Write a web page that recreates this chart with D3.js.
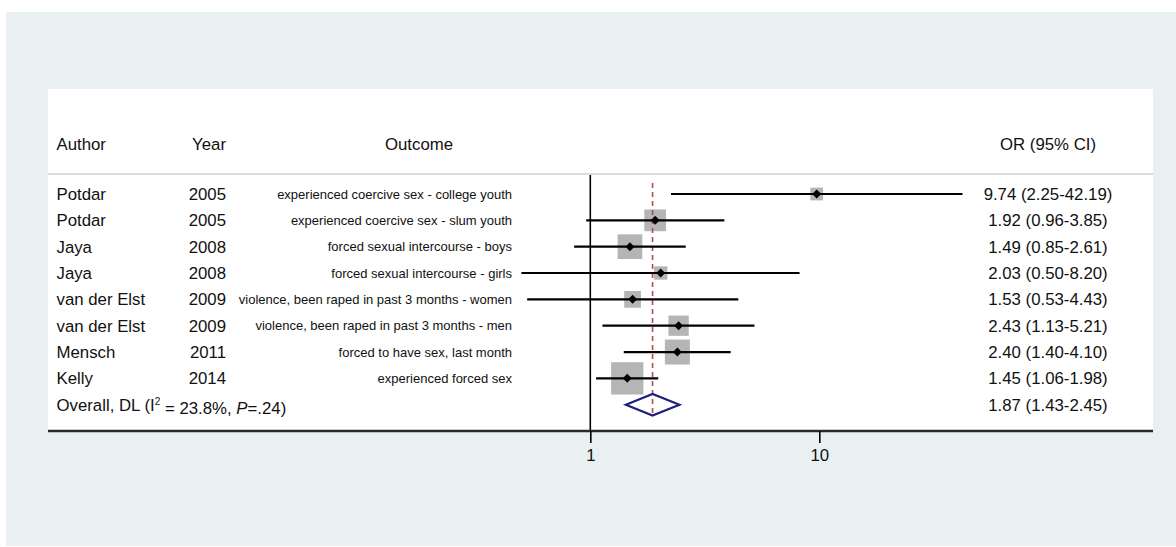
<!DOCTYPE html>
<html>
<head>
<meta charset="utf-8">
<script src="https://cdn.jsdelivr.net/npm/d3@7"></script>
<style>
  html, body { margin: 0; padding: 0; background: #ffffff; }
  svg { display: block; font-family: "Liberation Sans", Arial, Helvetica, sans-serif; }
</style>
</head>
<body>
<svg id="chart" width="1176" height="547"></svg>
<script>
// ---------- data ----------
const authors  = ["Potdar", "Potdar", "Jaya", "Jaya", "van der Elst", "van der Elst", "Mensch", "Kelly"];
const years    = [2005, 2005, 2008, 2008, 2009, 2009, 2011, 2014];
const outcomes = [
  "experienced coercive sex - college youth",
  "experienced coercive sex - slum youth",
  "forced sexual intercourse - boys",
  "forced sexual intercourse - girls",
  "violence, been raped in past 3 months - women",
  "violence, been raped in past 3 months - men",
  "forced to have sex, last month",
  "experienced forced sex"
];
const orValues = [9.74, 1.92, 1.49, 2.03, 1.53, 2.43, 2.40, 1.45];
const ciLow    = [2.25, 0.96, 0.85, 0.50, 0.53, 1.13, 1.40, 1.06];
const ciHigh   = [42.19, 3.85, 2.61, 8.20, 4.43, 5.21, 4.10, 1.98];
const weights  = [4.3, 12.5, 16.1, 4.7, 7.4, 10.9, 16.5, 27.6];
const overallOR = 1.87, overallLow = 1.43, overallHigh = 2.45;
const xTicks = [1, 10];
const headers = ["Author", "Year", "Outcome", "OR (95% CI)"];

const fmt = d3.format(".2f");
const ciText = (o, l, h) => `${fmt(o)} (${fmt(l)}-${fmt(h)})`;

// ---------- layout ----------
const svg = d3.select("#chart");
const W = 1176, H = 547;

svg.append("rect").attr("x", 6).attr("y", 12).attr("width", W - 6).attr("height", H - 13)
  .attr("fill", "#e8f0f2");
const panel = { x0: 48, x1: 1153, y0: 89, y1: 431 };
svg.append("rect").attr("x", panel.x0).attr("y", panel.y0)
  .attr("width", panel.x1 - panel.x0).attr("height", panel.y1 - panel.y0).attr("fill", "#ffffff");

const x = d3.scaleLog().domain([1, 10]).range([590.3, 819.3]);
const nRows = orValues.length + 1;
const y = d3.scalePoint().domain(d3.range(nRows)).range([194, 404.7]);
const side = d3.scaleSqrt().domain([0, d3.max(weights)]).range([0, 32.3]);

const headerY = 144;
const txtBig = 16.8, txtSmall = 13;

// header line
svg.append("line").attr("x1", panel.x0).attr("x2", panel.x1).attr("y1", 174).attr("y2", 174)
  .attr("stroke", "#cfcfcf").attr("stroke-width", 1.6);

// headers
const hdr = svg.append("g").attr("font-size", txtBig).attr("fill", "#111");
hdr.append("text").attr("x", 56.5).attr("y", headerY).attr("dy", "0.35em").text(headers[0]);
hdr.append("text").attr("x", 226).attr("y", headerY).attr("dy", "0.35em").attr("text-anchor", "end").text(headers[1]);
hdr.append("text").attr("x", 419).attr("y", headerY).attr("dy", "0.35em").attr("text-anchor", "middle").text(headers[2]);
hdr.append("text").attr("x", 1048).attr("y", headerY).attr("dy", "0.35em").attr("text-anchor", "middle").text(headers[3]);

// study text columns
const rows = d3.range(orValues.length);
const tg = svg.append("g").attr("fill", "#111");
tg.selectAll("text.author").data(rows).join("text").attr("class", "author")
  .attr("x", 56.5).attr("y", i => y(i)).attr("dy", "0.35em").attr("font-size", txtBig).text(i => authors[i]);
tg.selectAll("text.year").data(rows).join("text").attr("class", "year")
  .attr("x", 226).attr("y", i => y(i)).attr("dy", "0.35em").attr("text-anchor", "end")
  .attr("font-size", txtBig).text(i => years[i]);
tg.selectAll("text.outcome").data(rows).join("text").attr("class", "outcome")
  .attr("x", 512).attr("y", i => y(i)).attr("dy", "0.35em").attr("text-anchor", "end")
  .attr("font-size", txtSmall).text(i => outcomes[i]);
tg.selectAll("text.ci").data(rows).join("text").attr("class", "ci")
  .attr("x", 1048).attr("y", i => y(i)).attr("dy", "0.35em").attr("text-anchor", "middle")
  .attr("font-size", txtBig).text(i => ciText(orValues[i], ciLow[i], ciHigh[i]));

// overall label
const ov = tg.append("text").attr("x", 56.5).attr("y", y(nRows - 1)).attr("dy", "0.35em").attr("font-size", txtBig);
ov.append("tspan").text("Overall, DL (I");
ov.append("tspan").attr("font-size", 10).attr("dy", "-0.55em").text("2");
ov.append("tspan").attr("dy", "0.55em").text(" = 23.8%, ");
ov.append("tspan").attr("font-style", "italic").text("P");
ov.append("tspan").text("=.24)");
tg.append("text").attr("x", 1048).attr("y", y(nRows - 1)).attr("dy", "0.35em").attr("text-anchor", "middle")
  .attr("font-size", txtBig).text(ciText(overallOR, overallLow, overallHigh));

// null line
svg.append("line").attr("x1", x(1)).attr("x2", x(1)).attr("y1", 175).attr("y2", panel.y1)
  .attr("stroke", "#000").attr("stroke-width", 1.6);

// weight squares
svg.append("g").selectAll("rect").data(rows).join("rect")
  .attr("x", i => x(orValues[i]) - side(weights[i]) / 2)
  .attr("y", i => y(i) - side(weights[i]) / 2)
  .attr("width", i => side(weights[i])).attr("height", i => side(weights[i]))
  .attr("fill", "#b5b5b5");

// overall dashed line
svg.append("line").attr("x1", x(overallOR)).attr("x2", x(overallOR)).attr("y1", 183).attr("y2", 416)
  .attr("stroke", "#b24a52").attr("stroke-width", 1.6).attr("stroke-dasharray", "5,4");

// CI lines
svg.append("g").selectAll("line").data(rows).join("line")
  .attr("x1", i => x(ciLow[i])).attr("x2", i => x(ciHigh[i]))
  .attr("y1", i => y(i)).attr("y2", i => y(i))
  .attr("stroke", "#000").attr("stroke-width", 2.2);

// point markers
const m = 4.5;
svg.append("g").selectAll("path").data(rows).join("path")
  .attr("d", i => {
    const cx = x(orValues[i]), cy = y(i);
    return `M${cx},${cy - m}L${cx + m},${cy}L${cx},${cy + m}L${cx - m},${cy}Z`;
  })
  .attr("fill", "#000");

// overall diamond
const oy = y(nRows - 1), dh = 10.8;
svg.append("path")
  .attr("d", `M${x(overallLow)},${oy}L${x(overallOR)},${oy - dh}L${x(overallHigh)},${oy}L${x(overallOR)},${oy + dh}Z`)
  .attr("fill", "none").attr("stroke", "#1f1f7e").attr("stroke-width", 2.2);

// x axis
svg.append("line").attr("x1", panel.x0).attr("x2", panel.x1).attr("y1", panel.y1).attr("y2", panel.y1)
  .attr("stroke", "#2a2a2a").attr("stroke-width", 2.4);
const axis = d3.axisBottom(x).tickValues(xTicks).tickFormat(d3.format("d")).tickSize(12).tickPadding(6);
const ag = svg.append("g").attr("transform", `translate(0,${panel.y1})`).call(axis);
ag.select(".domain").remove();
ag.selectAll(".tick line").attr("stroke", "#000").attr("stroke-width", 1.6);
ag.selectAll(".tick text").attr("font-size", txtBig).attr("fill", "#111")
  .attr("font-family", "\"Liberation Sans\", Arial, sans-serif");
</script>
</body>
</html>
